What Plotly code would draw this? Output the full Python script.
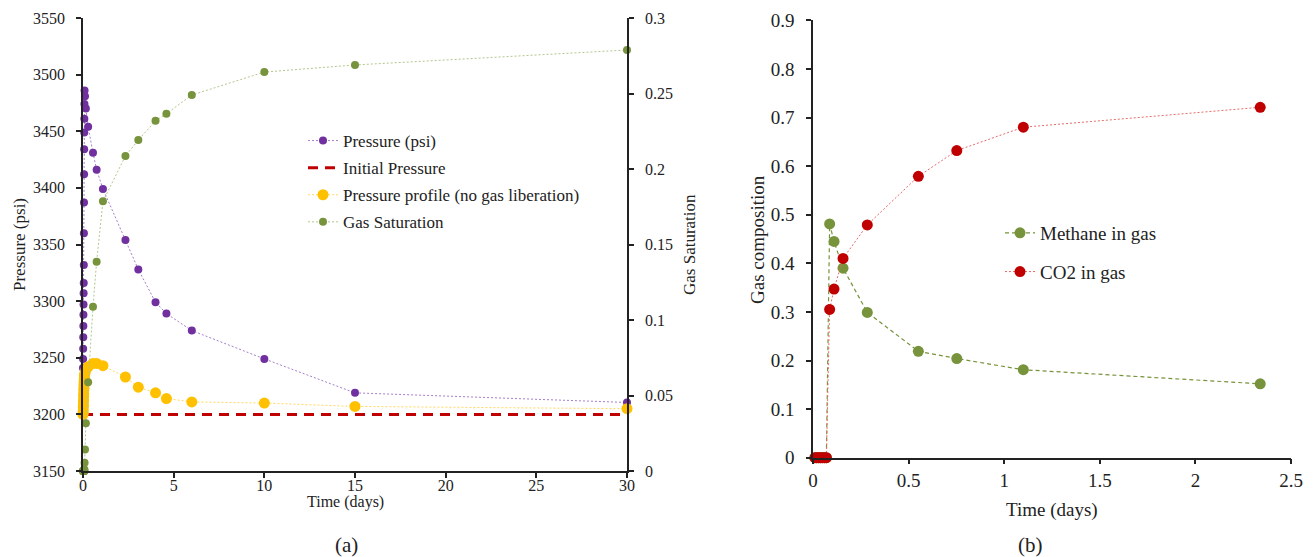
import plotly.graph_objects as go

# ---------------- data ----------------
time_days = [0, 0.005, 0.01, 0.015, 0.02, 0.025, 0.03, 0.035, 0.04, 0.045, 0.05, 0.055,
             0.06, 0.065, 0.07, 0.075, 0.08, 0.087, 0.11, 0.157, 0.284, 0.551, 0.752,
             1.1, 2.34, 3.05, 4.0, 4.6, 6.0, 10.0, 15.0, 30.0]
pressure_psi = [3241, 3249, 3258, 3268, 3278, 3288, 3297, 3307, 3316, 3332, 3360, 3387,
                3412, 3434, 3449, 3461, 3474, 3486, 3481, 3470, 3454, 3431, 3416,
                3399, 3354, 3328, 3299, 3289, 3274, 3249, 3219, 3210.5]
pressure_no_gas = [3200, 3201, 3203, 3206, 3208, 3211, 3213, 3216, 3218, 3221, 3223, 3225,
                   3227, 3229, 3231, 3233, 3234, 3235, 3236, 3239, 3242, 3245, 3245,
                   3243, 3233, 3224, 3219, 3214, 3211, 3210, 3207, 3205]
gas_saturation = [0, 0, 0, 0, 0, 0, 0, 0, 0, 0, 0, 0,
                  0, 0, 0, 0, 0.001, 0.0055, 0.0142, 0.0316, 0.0587, 0.1088, 0.1386,
                  0.1786, 0.2086, 0.2192, 0.2319, 0.2366, 0.249, 0.2642, 0.2689, 0.2788]
init_time = [0, 30]
init_pressure = [3200, 3200]

comp_time = [0.01, 0.02, 0.03, 0.04, 0.05, 0.06, 0.07, 0.087, 0.11, 0.157, 0.284,
             0.551, 0.752, 1.1, 2.339]
methane_gas = [0, 0, 0, 0, 0, 0, 0, 0.481, 0.445, 0.390, 0.299, 0.219, 0.204, 0.181, 0.152]
co2_gas = [0, 0, 0, 0, 0, 0, 0, 0.305, 0.347, 0.410, 0.479, 0.579, 0.632, 0.680, 0.721]

W, H = 1313, 557
FONT = "Liberation Serif, Times New Roman, serif"
PURPLE, YELLOW, GREEN, RED = "#7030A0", "#FFC000", "#77933C", "#C00000"

def px(x):
    return x / W

def py(y):
    return 1 - y / H

fig = go.Figure()

# ---------------- panel (a) ----------------
fig.add_trace(go.Scatter(
    x=time_days, y=pressure_psi, name="Pressure (psi)", mode="lines+markers",
    line=dict(color="#A57FCB", width=1, dash="2px,2px"),
    marker=dict(color=PURPLE, size=8), xaxis="x", yaxis="y",
    legend="legend", legendgroup="a1", cliponaxis=False))
fig.add_trace(go.Scatter(
    x=init_time, y=init_pressure, name="Initial Pressure", mode="lines",
    line=dict(color=RED, width=3, dash="10px,7px"), xaxis="x", yaxis="y",
    legend="legend", legendgroup="a2", cliponaxis=False))
fig.add_trace(go.Scatter(
    x=time_days, y=pressure_no_gas, name="Pressure profile (no gas liberation)",
    mode="lines+markers",
    line=dict(color="#FFD860", width=1, dash="2px,2px"),
    marker=dict(color=YELLOW, size=11), xaxis="x", yaxis="y",
    legend="legend", legendgroup="a3", cliponaxis=False))
fig.add_trace(go.Scatter(
    x=time_days, y=gas_saturation, name="Gas Saturation", mode="lines+markers",
    line=dict(color="#B2C78E", width=1, dash="2px,2px"),
    marker=dict(color=GREEN, size=8), xaxis="x", yaxis="y2",
    legend="legend", legendgroup="a4", cliponaxis=False))

# ---------------- panel (b) ----------------
fig.add_trace(go.Scatter(
    x=comp_time, y=methane_gas, name="Methane in gas", mode="lines+markers",
    line=dict(color=GREEN, width=1.2, dash="4px,3px"),
    marker=dict(color=GREEN, size=11), xaxis="x3", yaxis="y3",
    legend="legend2", legendgroup="b1", cliponaxis=False))
fig.add_trace(go.Scatter(
    x=comp_time, y=co2_gas, name="CO2 in gas", mode="lines+markers",
    line=dict(color="#E46C6C", width=1, dash="2px,2px"),
    marker=dict(color=RED, size=11), xaxis="x3", yaxis="y3",
    legend="legend2", legendgroup="b2", cliponaxis=False))

axis_common = dict(showline=True, linecolor="#222", linewidth=1.5, ticks="outside",
                   ticklen=5, tickwidth=1.5, tickcolor="#222", showgrid=False,
                   zeroline=False, fixedrange=True, automargin=False)

fs_a, fs_b = 16, 19

fig.update_layout(
    width=W, height=H, margin=dict(l=0, r=0, t=0, b=0, autoexpand=False),
    paper_bgcolor="white", plot_bgcolor="white",
    font=dict(family=FONT, color="#222", size=fs_a),
    xaxis=dict(domain=[px(83), px(627)], range=[0, 30], dtick=5, anchor="y",
               tickfont=dict(size=fs_a), ticklabelstandoff=-6, **axis_common),
    yaxis=dict(domain=[py(471), py(18)], range=[3150, 3550], dtick=50, anchor="x",
               tickfont=dict(size=fs_a), ticklabelstandoff=8, **axis_common),
    yaxis2=dict(range=[0, 0.3], dtick=0.05, overlaying="y", side="right", anchor="x",
                tickfont=dict(size=fs_a), ticklabelstandoff=8, **axis_common),
    xaxis3=dict(domain=[px(813), px(1291)], range=[0, 2.5], dtick=0.5, anchor="y3",
                tickfont=dict(size=fs_b), **axis_common),
    yaxis3=dict(domain=[py(457.7), py(20.3)], range=[0, 0.9], dtick=0.1, anchor="x3",
                tickfont=dict(size=fs_b), ticklabelstandoff=8, **axis_common),
    legend=dict(x=px(303), y=py(123), xanchor="left", yanchor="top",
                font=dict(size=17), tracegroupgap=2, bgcolor="rgba(0,0,0,0)"),
    legend2=dict(x=px(1000), y=py(214), xanchor="left", yanchor="top",
                 font=dict(size=19), tracegroupgap=11, bgcolor="rgba(0,0,0,0)"),
    showlegend=True,
)

annots = [
    dict(text="Pressure (psi)", x=px(20), y=py(245), textangle=-90, size=17),
    dict(text="Gas Saturation", x=px(690), y=py(245), textangle=-90, size=17),
    dict(text="Time (days)", x=px(345), y=py(502), textangle=0, size=16),
    dict(text="(a)", x=px(346), y=py(545), textangle=0, size=21),
    dict(text="Gas composition", x=px(757), y=py(240), textangle=-90, size=fs_b),
    dict(text="Time (days)", x=px(1052), y=py(510), textangle=0, size=fs_b),
    dict(text="(b)", x=px(1030), y=py(545), textangle=0, size=21),
]
for a in annots:
    fig.add_annotation(text=a["text"], x=a["x"], y=a["y"], xref="paper", yref="paper",
                       xanchor="center", yanchor="middle", showarrow=False,
                       textangle=a["textangle"], font=dict(size=a["size"], family=FONT, color="#222"))

fig.write_html("out.html")
